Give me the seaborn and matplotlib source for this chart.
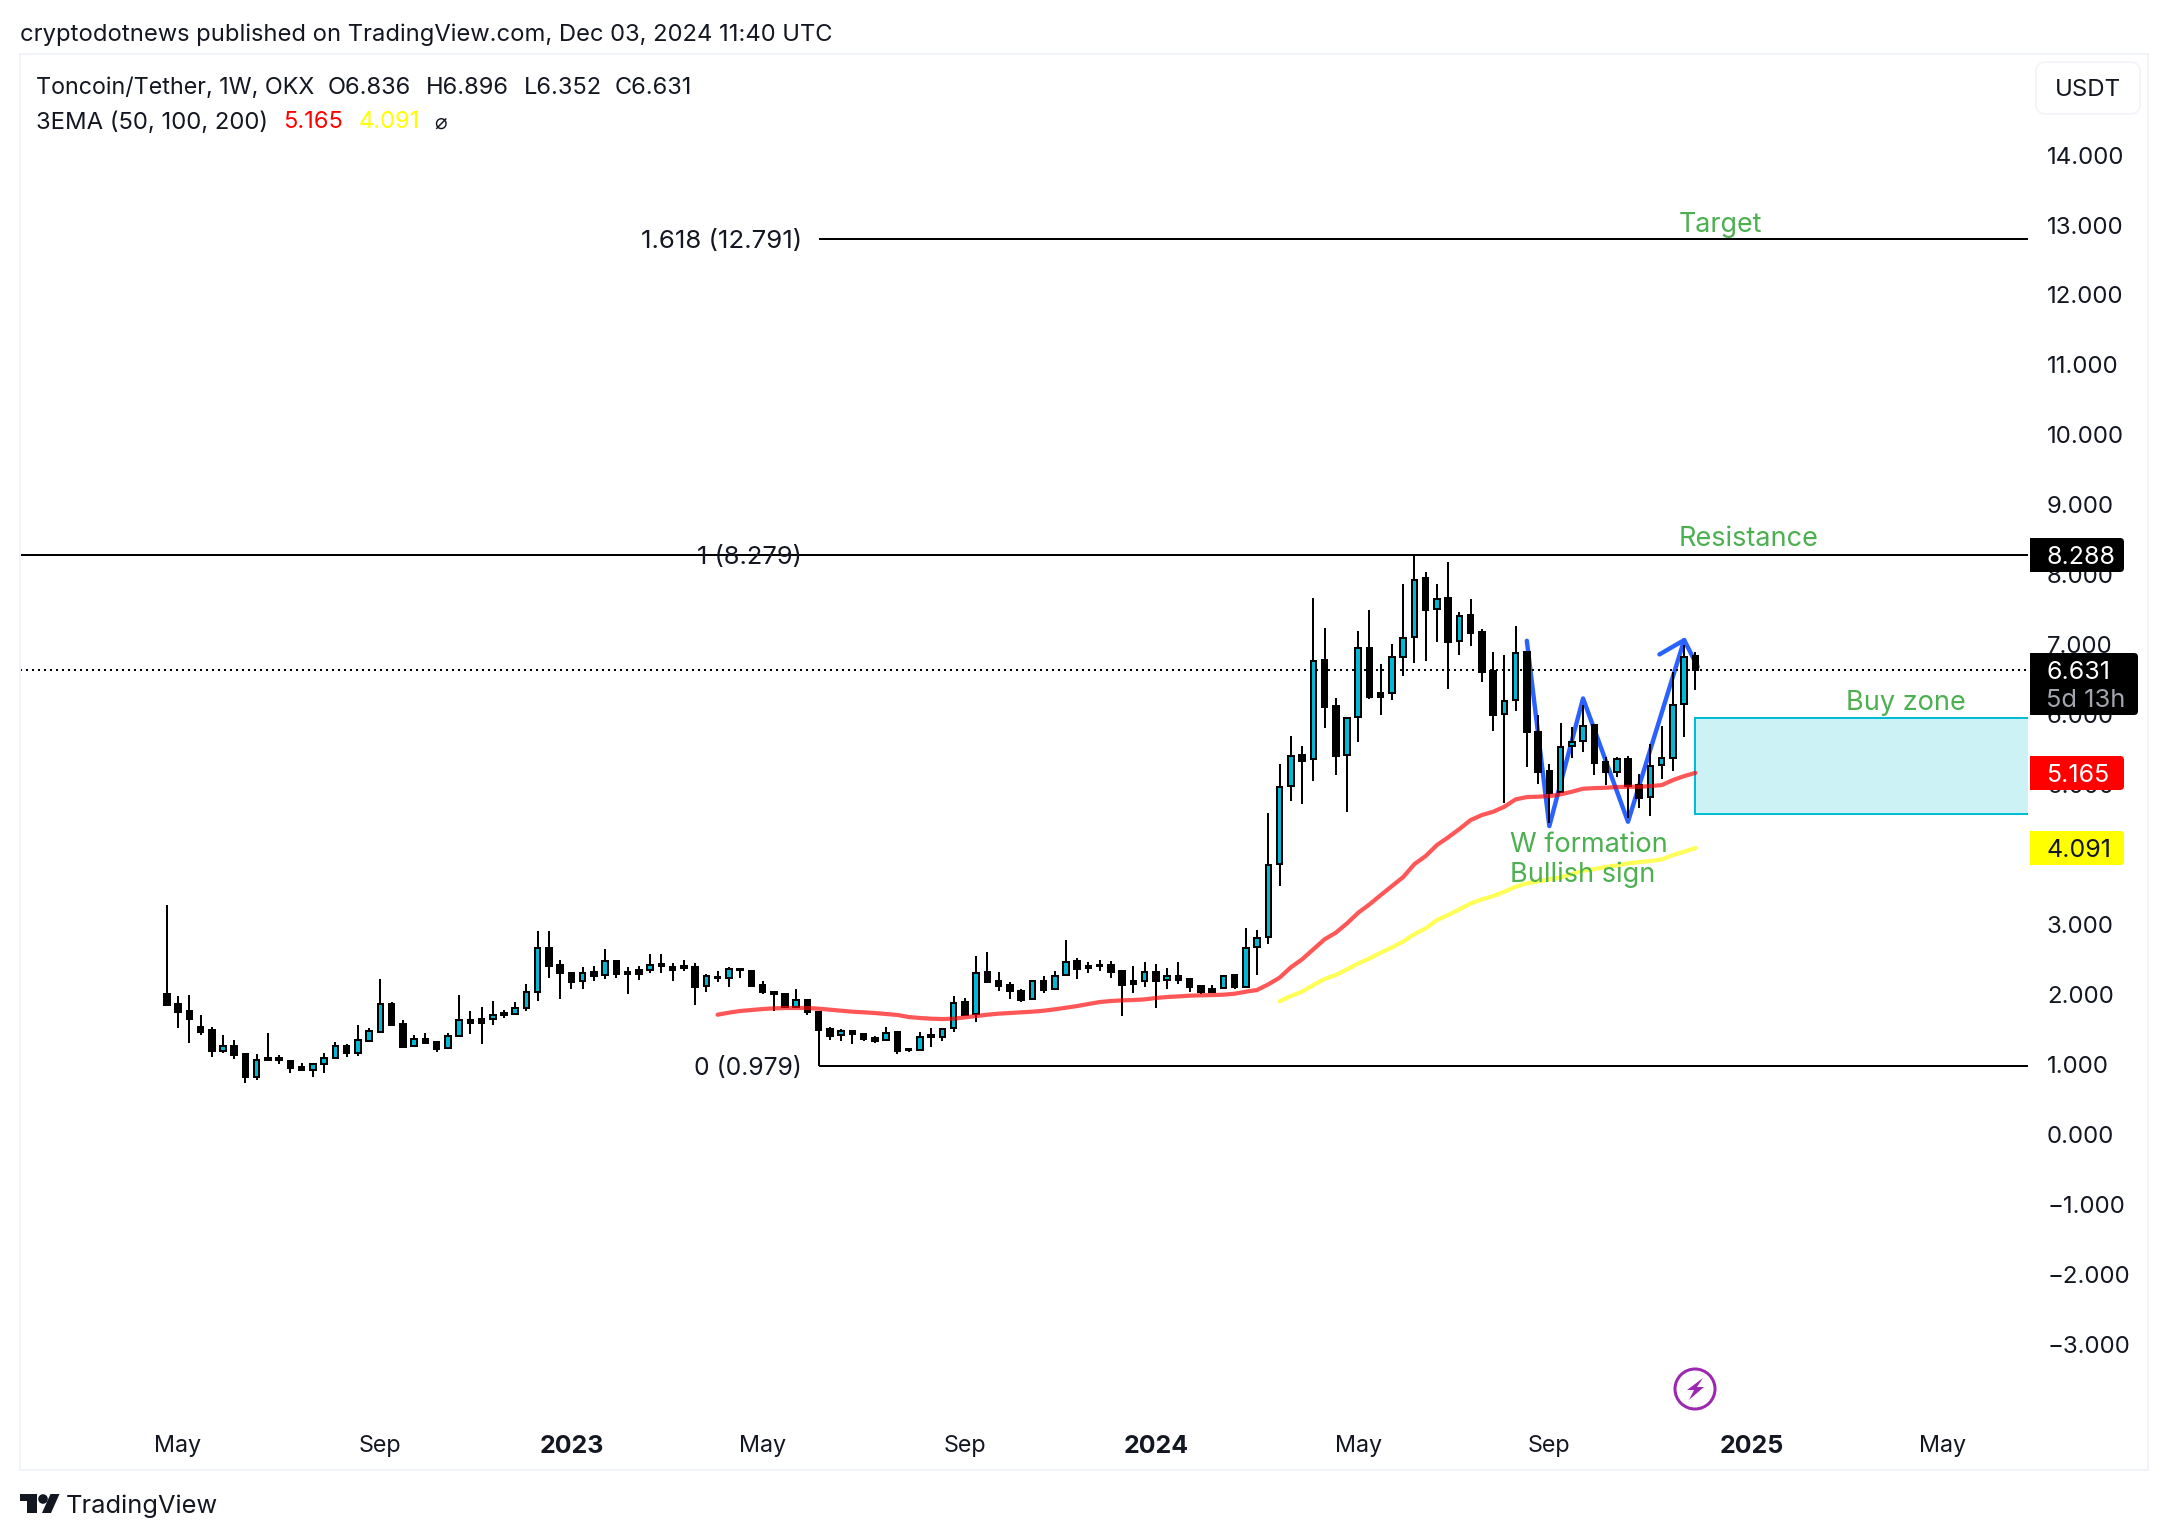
import numpy as np
import pandas as pd
import seaborn as sns
import matplotlib
matplotlib.use("Agg")
import matplotlib.pyplot as plt
from matplotlib.patches import Rectangle, FancyBboxPatch, Circle, Polygon
from matplotlib.transforms import IdentityTransform, Affine2D

# ---- data (weekly candles) ----
highs = [3.276,1.970,1.985,1.699,1.527,1.413,1.341,1.146,1.141,1.442,1.127,1.056,1.018,1.008,1.156,1.313,1.284,1.556,1.513,2.213,
1.889,1.627,1.413,1.442,1.327,1.442,1.985,1.756,1.813,1.899,1.770,1.885,2.142,2.899,2.899,2.485,2.313,2.385,2.399,2.642,
2.485,2.385,2.399,2.571,2.571,2.442,2.485,2.442,2.285,2.337,2.390,2.366,2.332,2.185,2.037,2.008,2.070,1.927,1.746,1.532,
1.499,1.484,1.451,1.399,1.527,1.461,1.227,1.465,1.513,1.513,1.970,1.942,2.542,2.599,2.313,2.170,2.070,2.199,2.256,2.328,
2.771,2.513,2.466,2.485,2.475,2.328,2.399,2.456,2.428,2.371,2.456,2.223,2.128,2.128,2.280,2.294,
2.942,2.914,4.586,5.286,5.691,5.548,
7.658,7.230,6.229,5.967,7.187,7.487,6.715,7.001,7.858,8.288,8.030,7.858,8.173,7.458,7.644,7.215,6.887,6.844,7.258,
6.886,5.986,5.286,5.872,5.814,6.134,5.848,5.386,5.386,5.400,5.143,5.576,5.834,6.601,6.991,6.896]
tops = [1.999,1.856,1.756,1.532,1.484,1.256,1.261,1.146,1.056,1.084,1.084,1.041,0.960,1.003,1.084,1.256,1.256,1.341,1.470,1.856,
1.856,1.570,1.356,1.361,1.313,1.399,1.627,1.632,1.646,1.699,1.732,1.799,2.028,2.656,2.656,2.413,2.304,2.309,2.313,2.471,
2.471,2.318,2.342,2.413,2.428,2.385,2.404,2.385,2.266,2.251,2.356,2.366,2.332,2.128,2.037,1.999,1.913,1.913,1.746,1.504,
1.470,1.470,1.432,1.375,1.451,1.456,1.222,1.394,1.418,1.508,1.880,1.885,2.309,2.313,2.185,2.128,2.042,2.185,2.185,2.266,
2.466,2.471,2.404,2.423,2.413,2.328,2.185,2.318,2.313,2.266,2.266,2.213,2.113,2.080,2.266,2.271,
2.666,2.809,3.852,4.967,5.410,5.415,
6.767,6.772,6.115,5.953,6.944,6.944,6.301,6.815,7.096,7.925,7.944,7.654,7.658,7.411,7.415,7.172,6.620,6.196,6.882,
6.886,5.753,5.186,5.538,5.610,5.838,5.848,5.314,5.357,5.357,4.985,5.267,5.371,6.138,6.824,6.836]
bottoms = [1.847,1.751,1.651,1.461,1.194,1.194,1.137,0.822,0.822,1.065,1.065,0.951,0.913,0.913,0.999,1.084,1.156,1.156,1.327,1.461,
1.565,1.251,1.256,1.308,1.222,1.227,1.399,1.594,1.594,1.642,1.704,1.713,1.799,2.028,2.409,2.309,2.180,2.185,2.266,2.271,
2.294,2.294,2.294,2.342,2.409,2.351,2.375,2.109,2.118,2.228,2.228,2.347,2.123,2.037,1.999,1.818,1.823,1.742,1.494,1.403,
1.418,1.427,1.365,1.337,1.351,1.184,1.199,1.208,1.394,1.384,1.518,1.708,1.713,2.180,2.123,2.042,1.918,1.932,2.066,2.070,
2.271,2.366,2.380,2.404,2.323,2.137,2.142,2.185,2.194,2.199,2.209,2.109,2.032,2.037,2.090,2.104,
2.109,2.676,2.814,3.862,4.972,5.339,
5.357,6.110,5.410,5.415,5.958,6.253,6.253,6.301,6.815,7.101,7.496,7.501,7.039,7.044,7.168,6.610,5.996,6.001,6.201,
5.753,5.181,4.881,4.886,5.543,5.614,5.310,5.181,5.181,4.981,4.809,4.819,5.271,5.371,6.143,6.631]
lows = [1.832,1.523,1.308,1.423,1.108,1.165,1.079,0.736,0.779,1.056,1.008,0.879,0.908,0.822,0.879,1.084,1.108,1.122,1.327,1.451,
1.565,1.237,1.256,1.308,1.175,1.227,1.399,1.437,1.294,1.565,1.665,1.699,1.765,1.908,2.237,1.937,2.080,2.080,2.194,2.223,
2.237,2.008,2.209,2.309,2.309,2.194,2.337,1.851,2.037,2.180,2.109,2.228,2.123,2.004,1.765,1.818,1.808,1.708,1.494,1.346,
1.332,1.294,1.332,1.308,1.337,1.146,1.175,1.199,1.251,1.337,1.465,1.708,1.608,2.180,2.051,1.937,1.894,1.927,2.023,2.056,
2.271,2.223,2.309,2.337,2.237,1.694,2.023,2.109,1.808,2.080,2.151,2.037,2.008,2.037,2.080,2.070,
2.094,2.276,2.723,3.552,4.762,4.724,
5.052,5.810,5.138,4.609,5.610,6.224,5.996,6.210,6.553,6.739,6.767,7.039,6.367,6.853,6.982,6.467,5.767,4.738,6.053,
5.252,5.005,4.442,4.886,5.381,5.467,5.138,4.990,5.109,4.514,4.666,4.552,5.076,5.195,5.681,6.352]
# 1 = close above open (blue candle), 0 = close below open (black candle)
rising = [0,0,0,0,0,1,0,0,1,0,0,0,0,1,1,1,0,1,1,1,
0,0,1,0,0,1,1,0,0,1,0,1,1,1,0,0,0,1,0,1,
0,0,0,1,0,0,0,0,1,0,1,0,0,0,0,0,1,0,0,0,
1,0,0,0,1,0,0,1,0,1,1,0,1,0,0,0,0,1,0,1,
1,0,0,0,0,0,0,1,0,1,0,0,0,0,1,0,
1,1,1,1,1,0,
1,0,0,1,1,0,0,1,1,1,0,1,0,1,0,0,0,1,1,
0,0,0,1,1,1,0,0,1,0,0,1,1,1,1,0]

ema50_start = 49
ema50 = [1.708,1.737,1.761,1.775,1.789,1.799,1.804,1.804,1.804,1.794,1.780,1.765,1.751,1.742,1.732,1.718,1.704,1.675,1.661,1.651,
1.646,1.651,1.670,1.689,1.708,1.723,1.732,1.742,1.751,1.765,1.785,1.808,1.832,1.861,1.889,1.904,1.913,1.918,1.927,1.947,
1.961,1.970,1.980,1.985,1.989,1.994,2.008,2.037,2.061,2.142,2.237,2.385,2.499,2.642,2.785,2.880,3.013,3.166,3.285,3.418,
3.547,3.676,3.861,3.976,4.133,4.243,4.362,4.490,4.562,4.609,4.681,4.786,4.819,4.824,4.833,4.857,4.895,4.938,4.947,4.952,
4.962,4.966,4.966,4.976,4.990,5.062,5.119,5.165]
ema100_start = 99
ema100 = [1.899,1.975,2.037,2.132,2.218,2.275,2.356,2.442,2.513,2.594,2.670,2.756,2.861,2.942,3.061,3.133,3.214,3.299,3.356,3.404,
3.466,3.538,3.585,3.614,3.642,3.671,3.719,3.766,3.790,3.819,3.842,3.871,3.890,3.904,3.928,3.990,4.038,4.091]

w_x = [121, 123, 126, 130, 135, 136.2]
w_y = [7.053, 4.404, 6.229, 4.466, 7.063, 6.682]
barb_x = [132.8, 135]
barb_y = [6.858, 7.063]

fib_levels = [12.791, 8.279, 0.979]
fib_labels = ["1.618 (12.791)", "1 (8.279)", "0 (0.979)"]
fib_start = 58
fib_anchor_low = 1.494
last_price = 6.631
buy_zone = (136, 4.577, 5.953)

ytick_values = list(range(14, -4, -1))
ytick_labels = ["14.000","13.000","12.000","11.000","10.000","9.000","8.000","7.000","6.000","5.000","4.000",
                "3.000","2.000","1.000","0.000","\u22121.000","\u22122.000","\u22123.000"]
xtick_values = [1, 19, 36, 53, 71, 88, 106, 123, 141, 158]
xtick_labels = ["May","Sep","2023","May","Sep","2024","May","Sep","2025","May"]

W, H = 2168, 1540
PX = 1/ (100/72)   # points per pixel at dpi 100
DARK = "#131722"
GREEN = "#4caf50"
BORDER = "#f0f3fa"
sns.set_theme(style="white")
plt.rcParams["font.family"] = ["Inter", "DejaVu Sans"]
plt.rcParams["axes.unicode_minus"] = False

fig = plt.figure(figsize=(W/100, H/100), dpi=100, facecolor="white")
L, R, T, B = 20, 2028, 54, 1415
ax = fig.add_axes([L/W, 1-B/H, (R-L)/W, (B-T)/H])
ax.set_facecolor("none")

idx = np.arange(len(highs))
rising_a = np.array(rising, bool)
tops_a, bottoms_a = np.array(tops), np.array(bottoms)

# W drawing below the candles
sns.lineplot(x=w_x, y=w_y, sort=False, estimator=None, ax=ax, color="#2962ff", lw=4.4*PX, zorder=2,
             solid_joinstyle="round", solid_capstyle="round")
sns.lineplot(x=barb_x, y=barb_y, sort=False, estimator=None, ax=ax, color="#2962ff", lw=4.4*PX, zorder=2,
             solid_capstyle="round")

# candles
ax.vlines(idx, lows, highs, color="black", lw=2*PX, zorder=3)
ax.bar(idx, tops_a-bottoms_a, bottom=bottoms_a, width=0.49,
       color=np.where(rising_a, "#00b8d4", "black"), edgecolor="black", linewidth=2*PX, zorder=3.2)

# EMAs
ema_df = pd.concat([
    pd.DataFrame({"week": ema50_start+np.arange(len(ema50)), "value": ema50, "ema": "100"}),
    pd.DataFrame({"week": ema100_start+np.arange(len(ema100)), "value": ema100, "ema": "200"}),
])
sns.lineplot(data=ema_df, x="week", y="value", hue="ema", palette={"100": "#ff0000", "200": "#ffff00"},
             estimator=None, lw=4.2*PX, alpha=0.66, legend=False, ax=ax, zorder=4)

xmin, xmax = (L-166.8)/11.24, (R-166.8)/11.24
ymax, ymin = (1134.2-T)/69.96, (1134.2-B)/69.96

# fib levels
ax.hlines(fib_levels[0], fib_start, xmax, color="black", lw=2*PX, zorder=2)
ax.hlines(fib_levels[1], xmin, xmax, color="black", lw=2*PX, zorder=2)
ax.hlines(fib_levels[2], fib_start, xmax, color="black", lw=2*PX, zorder=2)
ax.vlines(fib_start, fib_levels[2], fib_anchor_low, color="black", lw=2*PX, zorder=2)

# last price line
ax.axhline(last_price, color="black", lw=2*PX, ls=(0, (1, 2)), zorder=2.5)

# buy zone
ax.add_patch(Rectangle((buy_zone[0], buy_zone[1]), xmax-buy_zone[0]+2, buy_zone[2]-buy_zone[1],
                       facecolor="#ccf2f6", edgecolor="#00bcd4", lw=2*PX, zorder=1.5))

ax.set_xlim(xmin, xmax)
ax.set_ylim(ymin, ymax)
ax.set_xlabel(""); ax.set_ylabel("")
for s in ax.spines.values():
    s.set_visible(False)
ax.yaxis.tick_right()
ax.set_yticks(ytick_values)
ax.set_yticklabels(ytick_labels, color=DARK, fontsize=17.3, ha="left")
ax.tick_params(axis="y", length=0, pad=19*PX)
ax.set_xticks(xtick_values)
ax.set_xticklabels(xtick_labels, color=DARK, fontsize=16.8)
ax.tick_params(axis="x", length=0, pad=20*PX)
for lab in ax.get_xticklabels():
    if lab.get_text().isdigit():
        lab.set_fontweight("bold")
        lab.set_fontsize(18)
# move the price labels down to sit on their levels
for lab in ax.get_yticklabels():
    lab.set_verticalalignment("center")
    lab.set_transform(lab.get_transform() + Affine2D().translate(0, -2.8))

I = IdentityTransform()
def txt(x, y, s, size=17.3, color=DARK, ha="left", **kw):
    return fig.text(x, H-y-2.5, s, transform=I, fontsize=size, color=color, ha=ha, va="center", **kw)
def poly(pts, color):
    fig.add_artist(Polygon([(x, H-y) for x, y in pts], closed=True, transform=I, facecolor=color, edgecolor="none"))

# chart frame and currency button
fig.add_artist(Rectangle((L, H-1470), 2148-L, 1470-T, transform=I, fill=False, edgecolor=BORDER, lw=2*PX, zorder=0.5))
fig.add_artist(FancyBboxPatch((2042, H-108), 92, 40, boxstyle="round,pad=6,rounding_size=10", transform=I,
                              facecolor="white", edgecolor=BORDER, lw=1.5*PX))
txt(2088, 87, "USDT", ha="center")

# price badges
def badge(y0, y1, x1, color):
    fig.add_artist(FancyBboxPatch((2034, H-y1+3), x1-2037, y1-y0-6, boxstyle="round,pad=3,rounding_size=4",
                                  transform=I, facecolor=color, edgecolor="none", zorder=2))
    fig.add_artist(Rectangle((2030, H-y1), 8, y1-y0, transform=I, facecolor=color, edgecolor="none", zorder=2))
badge(538, 572, 2124, "black");  txt(2046, 555, "8.288", size=18, color="white")
badge(653, 715, 2138, "black");  txt(2046, 670, "6.631", size=18, color="white"); txt(2046, 698, "5d 13h", size=18.4, color="#a3a6af")
badge(756, 790, 2124, "#ff0000"); txt(2046, 773, "5.165", size=18, color="white")
badge(831, 865, 2124, "#ffff00"); txt(2046, 848, "4.091", size=18, color="#131722")

# header
txt(20, 32, "cryptodotnews published on TradingView.com, Dec 03, 2024 11:40 UTC", size=17.1)
txt(36, 85, "Toncoin/Tether, 1W, OKX", size=16.8)
for x, s in [(328, "O6.836"), (426, "H6.896"), (524, "L6.352"), (615, "C6.631")]:
    txt(x, 85, s, size=17.0)
txt(36, 120, "3EMA (50, 100, 200)", size=17.2)
txt(283, 120, "5.165", size=17.0, color="#ff0000")
txt(359, 120, "4.091", size=17.0, color="#ffff00")
txt(434, 120, "\u2300", size=15)

# fib labels
for lev, s, sz in zip(fib_levels, fib_labels, [18.6, 18.3, 17.8]):
    txt(802, 1134.2-lev*69.96, s, size=sz, ha="right")

# annotations
txt(1679, 222, "Target", size=19.3, color=GREEN)
txt(1679, 537, "Resistance", size=19.5, color=GREEN)
txt(1846, 700, "Buy zone", size=19.5, color=GREEN)
txt(1510, 843, "W formation", size=19.5, color=GREEN)
txt(1510, 872, "Bullish sign", size=19.5, color=GREEN)

# bolt icon
fig.add_artist(Circle((1695, H-1389), 20, transform=I, fill=False, edgecolor="#9c27b0", lw=3*PX))
poly([(1703,1378),(1687,1390),(1694,1390),(1689,1400),(1704,1387),(1697,1387)], "#9c27b0")

# TradingView logo
poly([(20,1494),(36.5,1494),(36.5,1513),(27,1513),(27,1501),(20,1501)], DARK)
fig.add_artist(Circle((43, H-1499), 4.8, transform=I, facecolor=DARK, edgecolor="none"))
poly([(50.5,1494),(59.5,1494),(51,1513),(42,1513)], DARK)
txt(66, 1504, "TradingView", size=18.3)

fig.savefig("out.png", dpi=100, facecolor="white")
